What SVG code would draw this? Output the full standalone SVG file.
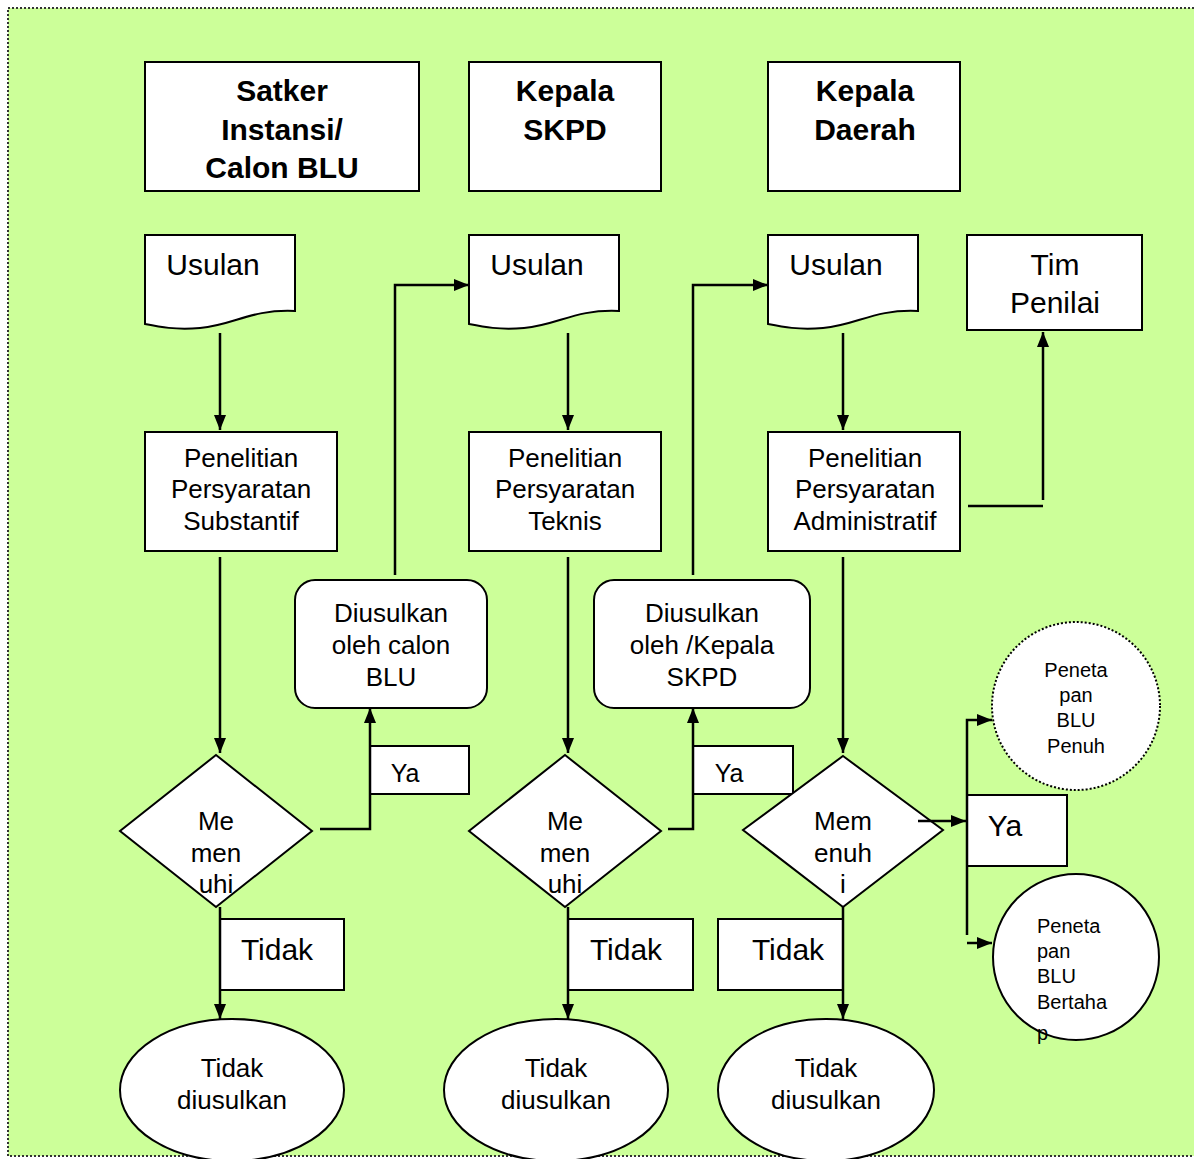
<svg xmlns="http://www.w3.org/2000/svg" width="1194" height="1159" viewBox="0 0 1194 1159">
<defs>
<marker id="ah" viewBox="0 0 15 12" refX="15" refY="6" markerWidth="15" markerHeight="12" markerUnits="userSpaceOnUse" orient="auto"><path d="M0,0 L15,6 L0,12 z" fill="#000"/></marker>
<style>
.sh{fill:#fff;stroke:#000;stroke-width:2}
.ln{fill:none;stroke:#000;stroke-width:2.5}
.ar{fill:none;stroke:#000;stroke-width:2.5;marker-end:url(#ah)}
text{font-family:"Liberation Sans",Arial,sans-serif;fill:#000;text-anchor:middle}
.hd{font-size:30px;font-weight:bold}
.t30{font-size:30px}
.t26{font-size:26px}
.t25{font-size:25px}
.t20{font-size:20px}
</style>
</defs>
<rect x="8" y="8" width="1200" height="1148" fill="#ccff99" stroke="#333" stroke-width="2" stroke-dasharray="2 2"/>

<g id="hdr-satker"><rect class="sh" x="145" y="62" width="274" height="129"/><text class="hd" x="282" y="101">Satker</text><text class="hd" x="282" y="140">Instansi/</text><text class="hd" x="282" y="178">Calon BLU</text></g>
<g id="hdr-skpd"><rect class="sh" x="469" y="62" width="192" height="129"/><text class="hd" x="565" y="101">Kepala</text><text class="hd" x="565" y="140">SKPD</text></g>
<g id="hdr-daerah"><rect class="sh" x="768" y="62" width="192" height="129"/><text class="hd" x="865" y="101">Kepala</text><text class="hd" x="865" y="140">Daerah</text></g>

<g id="usulan1"><path class="sh" d="M145,235 H295 V311 C250,309 235,325 200,328 C175,330 160,327 145,324 Z"/><text class="t30" x="213" y="275">Usulan</text></g>
<g id="usulan2"><path class="sh" d="M469,235 H619 V311 C574,309 559,325 524,328 C499,330 484,327 469,324 Z"/><text class="t30" x="537" y="275">Usulan</text></g>
<g id="usulan3"><path class="sh" d="M768,235 H918 V311 C873,309 858,325 823,328 C798,330 783,327 768,324 Z"/><text class="t30" x="836" y="275">Usulan</text></g>
<g id="tim"><rect class="sh" x="967" y="235" width="175" height="95"/><text class="t30" x="1055" y="275">Tim</text><text class="t30" x="1055" y="313">Penilai</text></g>

<g id="pen1"><rect class="sh" x="145" y="432" width="192" height="119"/><text class="t26" x="241" y="467">Penelitian</text><text class="t26" x="241" y="498">Persyaratan</text><text class="t26" x="241" y="530">Substantif</text></g>
<g id="pen2"><rect class="sh" x="469" y="432" width="192" height="119"/><text class="t26" x="565" y="467">Penelitian</text><text class="t26" x="565" y="498">Persyaratan</text><text class="t26" x="565" y="530">Teknis</text></g>
<g id="pen3"><rect class="sh" x="768" y="432" width="192" height="119"/><text class="t26" x="865" y="467">Penelitian</text><text class="t26" x="865" y="498">Persyaratan</text><text class="t26" x="865" y="530">Administratif</text></g>

<g id="dius1"><rect class="sh" x="295" y="580" width="192" height="128" rx="20"/><text class="t26" x="391" y="622">Diusulkan</text><text class="t26" x="391" y="654">oleh calon</text><text class="t26" x="391" y="686">BLU</text></g>
<g id="dius2"><rect class="sh" x="594" y="580" width="216" height="128" rx="20"/><text class="t26" x="702" y="622">Diusulkan</text><text class="t26" x="702" y="654">oleh /Kepala</text><text class="t26" x="702" y="686">SKPD</text></g>

<g id="ya1"><rect class="sh" x="370" y="746" width="99" height="48"/><text class="t25" x="405" y="782">Ya</text></g>
<g id="ya2"><rect class="sh" x="693" y="746" width="100" height="48"/><text class="t25" x="729" y="782">Ya</text></g>
<g id="ya3"><rect class="sh" x="967" y="795" width="100" height="71"/><text class="t30" x="1005" y="836">Ya</text></g>

<g id="tidak1"><rect class="sh" x="220" y="919" width="124" height="71"/><text class="t30" x="277" y="960">Tidak</text></g>
<g id="tidak2"><rect class="sh" x="568" y="919" width="125" height="71"/><text class="t30" x="626" y="960">Tidak</text></g>
<g id="tidak3"><rect class="sh" x="718" y="919" width="125" height="71"/><text class="t30" x="788" y="960">Tidak</text></g>

<g id="dec1"><path class="sh" d="M216,755 L312,831 L216,907 L120,831 Z"/><text class="t26" x="216" y="830">Me</text><text class="t26" x="216" y="862">men</text><text class="t26" x="216" y="893">uhi</text></g>
<g id="dec2"><path class="sh" d="M565,755 L661,831 L565,907 L469,831 Z"/><text class="t26" x="565" y="830">Me</text><text class="t26" x="565" y="862">men</text><text class="t26" x="565" y="893">uhi</text></g>
<g id="dec3"><path class="sh" d="M843,756 L943,830 L843,907 L743,830 Z"/><text class="t26" x="843" y="830">Mem</text><text class="t26" x="843" y="862">enuh</text><text class="t26" x="843" y="893">i</text></g>

<g id="end1"><ellipse class="sh" cx="232" cy="1090" rx="112" ry="71"/><text class="t26" x="232" y="1077">Tidak</text><text class="t26" x="232" y="1109">diusulkan</text></g>
<g id="end2"><ellipse class="sh" cx="556" cy="1090" rx="112" ry="71"/><text class="t26" x="556" y="1077">Tidak</text><text class="t26" x="556" y="1109">diusulkan</text></g>
<g id="end3"><ellipse class="sh" cx="826" cy="1090" rx="108" ry="71"/><text class="t26" x="826" y="1077">Tidak</text><text class="t26" x="826" y="1109">diusulkan</text></g>

<g id="penuh"><circle cx="1076" cy="706" r="84" fill="#fff" stroke="#000" stroke-width="2" stroke-dasharray="2 2"/><text class="t20" x="1076" y="677">Peneta</text><text class="t20" x="1076" y="702">pan</text><text class="t20" x="1076" y="727">BLU</text><text class="t20" x="1076" y="753">Penuh</text></g>
<g id="bertahap"><circle class="sh" cx="1076" cy="957" r="83"/><text class="t20" x="1037" y="933" style="text-anchor:start">Peneta</text><text class="t20" x="1037" y="958" style="text-anchor:start">pan</text><text class="t20" x="1037" y="983" style="text-anchor:start">BLU</text><text class="t20" x="1037" y="1009" style="text-anchor:start">Bertaha</text><text class="t20" x="1037" y="1040" style="text-anchor:start">p</text></g>

<g id="connectors">
<path class="ar" d="M220,333 V430"/>
<path class="ar" d="M568,333 V430"/>
<path class="ar" d="M843,333 V430"/>
<path class="ln" d="M968,506 H1043"/>
<path class="ar" d="M1043,500 V332"/>
<path class="ar" d="M220,557 V753"/>
<path class="ar" d="M568,557 V753"/>
<path class="ar" d="M843,557 V753"/>
<path class="ar" d="M320,829 H370 V708"/>
<path class="ar" d="M668,829 H693 V708"/>
<path class="ar" d="M395,575 V285 H469"/>
<path class="ar" d="M693,575 V285 H768"/>
<path class="ar" d="M918,821 H966"/>
<path class="ar" d="M967,935 V720 H992"/>
<path class="ar" d="M967,943 H992"/>
<path class="ar" d="M220,907 V1019"/>
<path class="ar" d="M568,907 V1019"/>
<path class="ar" d="M843,907 V1019"/>
</g>
</svg>
